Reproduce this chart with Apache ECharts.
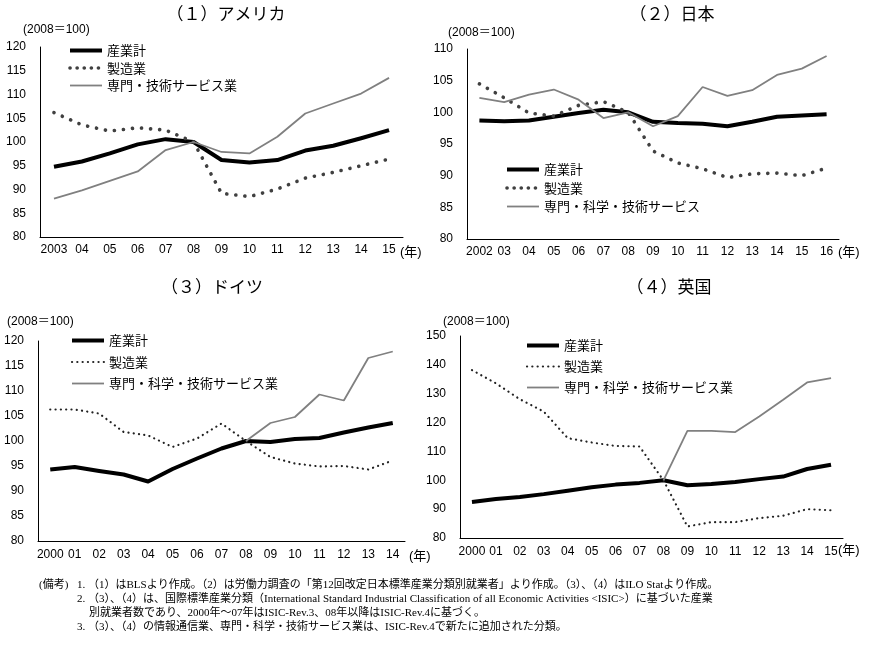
<!DOCTYPE html>
<html>
<head>
<meta charset="utf-8">
<script src="https://cdn.jsdelivr.net/npm/echarts@6/dist/echarts.min.js"></script>
<style>
  html, body { margin: 0; padding: 0; background: #fff; }
  #chart { width: 869px; height: 645px; }
</style>
</head>
<body>
<div id="chart"></div>
<script>
// (1) アメリカ 2003-2015
const usYears = ["2003", "04", "05", "06", "07", "08", "09", "10", "11", "12", "13", "14", "15"];
const usTotal = [94.8, 95.9, 97.6, 99.5, 100.6, 100, 96.2, 95.7, 96.2, 98.2, 99.2, 100.8, 102.5];
const usMfg = [106.2, 103.6, 102.3, 103.0, 102.5, 100, 89.2, 88.5, 90.1, 92.4, 93.6, 95.0, 96.4];
const usProf = [88.1, 89.8, 91.8, 93.8, 98.3, 100, 97.9, 97.6, 101.1, 106.0, 108.1, 110.2, 113.5];

// (2) 日本 2002-2016
const jpYears = ["2002", "03", "04", "05", "06", "07", "08", "09", "10", "11", "12", "13", "14", "15", "16"];
const jpTotal = [98.7, 98.6, 98.7, 99.3, 99.9, 100.4, 100, 98.5, 98.3, 98.2, 97.8, 98.5, 99.3, 99.5, 99.7];
const jpMfg = [104.5, 102.3, 99.9, 99.4, 101.1, 101.7, 100, 93.9, 92.0, 91.1, 89.7, 90.3, 90.4, 90.0, 91.2];
const jpProf = [102.3, 101.6, 102.8, 103.6, 102.0, 99.1, 100, 97.8, 99.4, 104.0, 102.6, 103.5, 105.9, 106.9, 108.9];

// (3) ドイツ 2000-2014
const deYears = ["2000", "01", "02", "03", "04", "05", "06", "07", "08", "09", "10", "11", "12", "13", "14"];
const deTotal = [94.3, 94.8, 94.0, 93.3, 91.9, 94.4, 96.5, 98.5, 100, 99.8, 100.4, 100.6, 101.7, 102.7, 103.6];
const deMfg = [106.3, 106.3, 105.5, 101.8, 101.1, 98.8, 100.5, 103.5, 100, 96.8, 95.5, 94.9, 95.0, 94.3, 96.1];
const deProf = ["-", "-", "-", "-", "-", "-", "-", "-", 100, 103.6, 104.8, 109.3, 108.1, 116.6, 117.9];

// (4) 英国 2000-2015
const ukYears = ["2000", "01", "02", "03", "04", "05", "06", "07", "08", "09", "10", "11", "12", "13", "14", "15"];
const ukTotal = [92.5, 93.5, 94.2, 95.2, 96.4, 97.6, 98.5, 99.1, 100, 98.3, 98.7, 99.4, 100.4, 101.3, 103.9, 105.4];
const ukMfg = [138.2, 133.6, 128.1, 123.8, 114.6, 113.1, 111.9, 111.7, 100, 84.0, 85.5, 85.5, 86.9, 87.7, 90.0, 89.6];
const ukProf = ["-", "-", "-", "-", "-", "-", "-", "-", 100, 117.1, 117.1, 116.7, 122.1, 127.9, 133.9, 135.4];

const notes = [
    "1. （1）はBLSより作成。（2）は労働力調査の「第12回改定日本標準産業分類別就業者」より作成。（3）、（4）はILO Statより作成。",
    "2. （3）、（4）は、国際標準産業分類（International Standard Industrial Classification of all Economic Activities <ISIC>）に基づいた産業",
    "別就業者数であり、2000年～07年はISIC-Rev.3、08年以降はISIC-Rev.4に基づく。",
    "3. （3）、（4）の情報通信業、専門・科学・技術サービス業は、ISIC-Rev.4で新たに追加された分類。",
];

const JP = "'Noto Sans CJK JP', sans-serif";
const NUM = "'Liberation Sans', 'Noto Sans CJK JP', sans-serif";
const NOTE = "'Liberation Serif', 'Noto Sans CJK JP', serif";

const totalStyle = { color: "#000", width: 4, join: "round" };
const bigDots = { color: "#404040", width: 3.6, type: [0.1, 9], cap: "round" };
const smallDots = { color: "#222", width: 2.2, type: [0.1, 5.2], cap: "round" };
const profStyle = { color: "#808080", width: 1.8 };

const panels = [
    { years: usYears, min: 80, max: 120, step: 5, grid: { left: 40, top: 47, width: 363, height: 190 },
      names: ["産業計", "製造業", "専門・技術サービス業"], data: [usTotal, usMfg, usProf], dots: bigDots },
    { years: jpYears, min: 80, max: 110, step: 5, grid: { left: 467, top: 49, width: 372, height: 190 },
      names: ["産業計", "製造業", "専門・科学・技術サービス"], data: [jpTotal, jpMfg, jpProf], dots: bigDots },
    { years: deYears, min: 80, max: 120, step: 5, grid: { left: 38, top: 341, width: 367, height: 200 },
      names: ["産業計", "製造業", "専門・科学・技術サービス業"], data: [deTotal, deMfg, deProf], dots: smallDots },
    { years: ukYears, min: 80, max: 150, step: 10, grid: { left: 460, top: 336, width: 383, height: 202 },
      names: ["産業計", "製造業", "専門・科学・技術サービス業"], data: [ukTotal, ukMfg, ukProf], dots: smallDots },
];

const titles = [
    { text: "（１）アメリカ", x: 226, y: 15 },
    { text: "（２）日本", x: 672, y: 15 },
    { text: "（３）ドイツ", x: 212, y: 288 },
    { text: "（４）英国", x: 669, y: 288 },
];

const legendPos = [
    { left: 63, top: 39, gap: 4.5 },
    { left: 500, top: 158, gap: 5.5 },
    { left: 65, top: 329, gap: 8.5 },
    { left: 520, top: 334, gap: 8 },
];

const baseLabels = [
    { text: "(2008＝100)", x: 23, y: 30 },
    { text: "(2008＝100)", x: 448, y: 33 },
    { text: "(2008＝100)", x: 7, y: 322 },
    { text: "(2008＝100)", x: 443, y: 322 },
];
const yearLabels = [
    { x: 400, y: 252 },
    { x: 838, y: 252 },
    { x: 409, y: 556 },
    { x: 838, y: 550 },
];

const chart = echarts.init(document.getElementById("chart"), null, { renderer: "canvas" });

const series = [];
panels.forEach((p, i) => {
    const styles = [totalStyle, p.dots, profStyle];
    p.names.forEach((name, k) => {
        series.push({
            name: name,
            type: "line",
            xAxisIndex: i,
            yAxisIndex: i,
            data: p.data[k],
            symbol: "none",
            smooth: false,
            lineStyle: styles[k],
            itemStyle: { color: styles[k].color },
            z: 2 + k,
        });
    });
});

function textEl(t, x, y, font) {
    return {
        type: "text",
        x: x,
        y: y,
        silent: true,
        style: {
            text: t,
            font: font,
            fill: "#000",
            align: "left",
            verticalAlign: "middle",
            textAlign: "left",
            textVerticalAlign: "middle",
        },
    };
}

const graphic = [];
baseLabels.forEach((b) => graphic.push(textEl(b.text, b.x, b.y, "12px " + NUM)));
yearLabels.forEach((b) => graphic.push(textEl("(年)", b.x, b.y, "13px " + NUM)));
graphic.push(textEl("(備考)", 39, 585, "11px " + NOTE));
graphic.push(textEl(notes[0], 77, 585, "11px " + NOTE));
graphic.push(textEl(notes[1], 77, 599, "11px " + NOTE));
graphic.push(textEl(notes[2], 89, 613, "11px " + NOTE));
graphic.push(textEl(notes[3], 77, 627, "11px " + NOTE));

const hidden = { opacity: 0, borderWidth: 0 };

const option = {
    backgroundColor: "#fff",
    animation: false,
    title: titles.map((t) => ({
        text: t.text,
        left: t.x,
        top: t.y - 10,
        padding: 0,
        textAlign: "center",
        textStyle: { fontSize: 17, fontWeight: "normal", color: "#000", fontFamily: JP },
    })),
    legend: panels.map((p, i) => ({
        orient: "vertical",
        left: legendPos[i].left,
        top: legendPos[i].top,
        itemWidth: 32,
        itemHeight: 14,
        itemGap: legendPos[i].gap,
        selectedMode: false,
        textStyle: { fontSize: 13, color: "#000", fontFamily: JP },
        data: [
            { name: p.names[0], itemStyle: hidden, lineStyle: { color: "#000", width: 4, type: "solid" } },
            { name: p.names[1], itemStyle: hidden, lineStyle: Object.assign({}, p.dots, p.dots === bigDots ? { type: [0.1, 7] } : {}) },
            { name: p.names[2], itemStyle: hidden, lineStyle: { color: "#808080", width: 1.8, type: "solid" } },
        ],
    })),
    grid: panels.map((p) => Object.assign({ containLabel: false }, p.grid)),
    xAxis: panels.map((p, i) => ({
        type: "category",
        gridIndex: i,
        data: p.years,
        boundaryGap: true,
        axisLine: { lineStyle: { color: "#000", width: 1 } },
        axisTick: { show: false },
        axisLabel: { color: "#000", fontSize: 12, fontFamily: NUM, margin: i < 2 ? 7 : 8, interval: 0 },
        splitLine: { show: false },
    })),
    yAxis: panels.map((p, i) => ({
        type: "value",
        gridIndex: i,
        min: p.min,
        max: p.max,
        interval: p.step,
        axisLine: { show: true, lineStyle: { color: "#000", width: 1 } },
        axisTick: { show: false },
        axisLabel: { color: "#000", fontSize: 12, fontFamily: NUM, margin: 14 },
        splitLine: { show: false },
    })),
    graphic: graphic,
    series: series,
};

chart.setOption(option);
</script>
</body>
</html>
